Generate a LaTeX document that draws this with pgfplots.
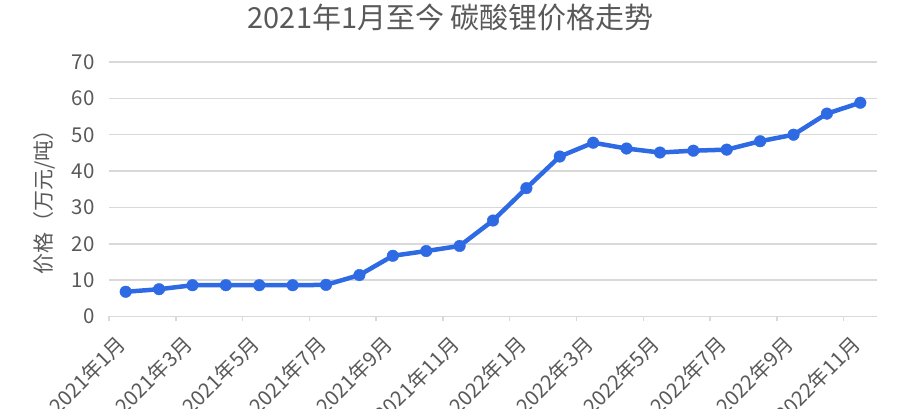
\documentclass[border=0pt]{standalone}
\usepackage{fontspec}
\setmainfont{Noto Sans CJK SC}
\usepackage{pgfplots}
\pgfplotsset{compat=1.18}
\definecolor{txt}{HTML}{595959}
\definecolor{grd}{HTML}{D9D9D9}
\definecolor{ln}{HTML}{2F6AE5}
\begin{document}
\begin{tikzpicture}[x=1pt,y=1pt]
\path[use as bounding box] (0,0) rectangle (903,409);
\clip (0,0) rectangle (903,409);
\begin{axis}[
  at={(109pt,92.5pt)}, anchor=south west, scale only axis,
  width=768pt, height=254.5pt,
  xmin=-0.5, xmax=22.5, ymin=0, ymax=70,
  axis x line*=bottom, axis y line*=left,
  x axis line style={grd, line width=1.5pt},
  y axis line style={draw=none},
  ytick={0,10,...,70},
  ymajorgrids, grid style={grd, line width=1.5pt},
  ytick style={draw=none},
  xtick={0,2,...,22},
  xticklabels={2021年1月,2021年3月,2021年5月,2021年7月,2021年9月,2021年11月,2022年1月,2022年3月,2022年5月,2022年7月,2022年9月,2022年11月},
  major x tick style={draw=none},
  extra x ticks={-0.5,1.5,3.5,5.5,7.5,9.5,11.5,13.5,15.5,17.5,19.5,21.5},
  extra x tick labels={},
  extra x tick style={grid=none, tick align=outside, major tick length=5pt,
     major x tick style={draw=grd, line width=1.5pt}},
  /pgf/number format/assume math mode=true,
  yticklabel style={font=\fontsize{20.5}{21}\selectfont, text=txt, xshift=-11pt},
  xticklabel style={font=\fontsize{20.5}{21}\selectfont, text=txt, xshift=-1.5pt, yshift=-21.5pt, rotate=45, anchor=east},
  title={2021年1月至今 碳酸锂价格走势},
  title style={font=\fontsize{29}{30}\selectfont, text=txt, anchor=center, at={(axis description cs:0.445,1.15)}},
  ylabel={价格（万元/吨）},
  ylabel style={font=\fontsize{21}{22}\selectfont, text=txt, anchor=center, at={(axis description cs:-0.0846,0.47)}},
  clip=false,
]
\addplot[ln, line width=4.5pt, line join=round, mark=*, mark size=5.8pt,
  mark options={solid, fill=ln, draw=ln, line width=0.4pt}] coordinates {
(0,6.8) (1,7.5) (2,8.6) (3,8.6) (4,8.6) (5,8.6) (6,8.7) (7,11.4) (8,16.7) (9,18.0) (10,19.4) (11,26.4)
(12,35.3) (13,44.0) (14,47.8) (15,46.2) (16,45.1) (17,45.6) (18,45.9) (19,48.2) (20,50.0) (21,55.8) (22,58.8)
};
\end{axis}
\end{tikzpicture}
\end{document}
